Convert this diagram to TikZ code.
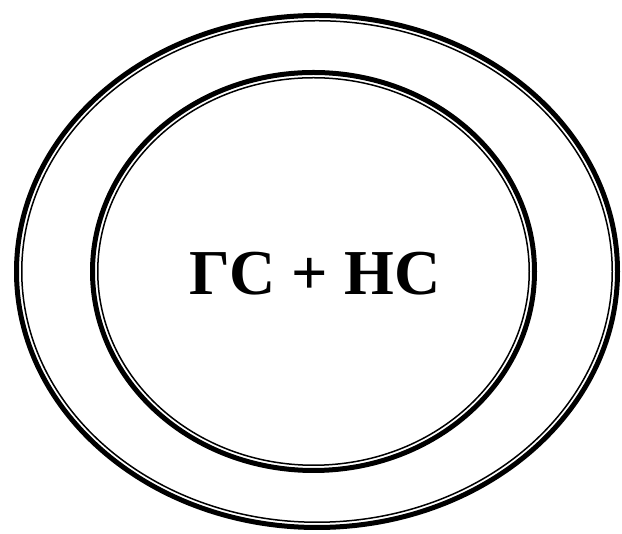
\documentclass[tikz,border=0pt]{standalone}
\usepackage{fontspec}
\setmainfont{Liberation Serif}
\begin{document}
\begin{tikzpicture}[x=1pt,y=1pt,
  thickline/.style={draw=black,line width=5pt},
  thinline/.style={draw=black,line width=1.5pt},
  lbl/.style={inner sep=0pt,font=\fontsize{64}{70}\selectfont\bfseries}]
\useasboundingbox (0,0) rectangle (622,534);
\fill[white] (0,0) rectangle (622,534);
% outer ellipse
\coordinate (oc) at (317,262.5);
\draw[thickline] (oc) ellipse [x radius=300.5, y radius=256];
\draw[thinline] (oc) ellipse [x radius=295.25, y radius=250.75];
% inner ellipse
\coordinate (ic) at (313.5,262.5);
\draw[thickline] (ic) ellipse [x radius=221, y radius=199];
\draw[thinline] (ic) ellipse [x radius=215.75, y radius=193.75];
\node[lbl] (t) at (315,260.5) {ГС + НС};
\end{tikzpicture}
\end{document}
